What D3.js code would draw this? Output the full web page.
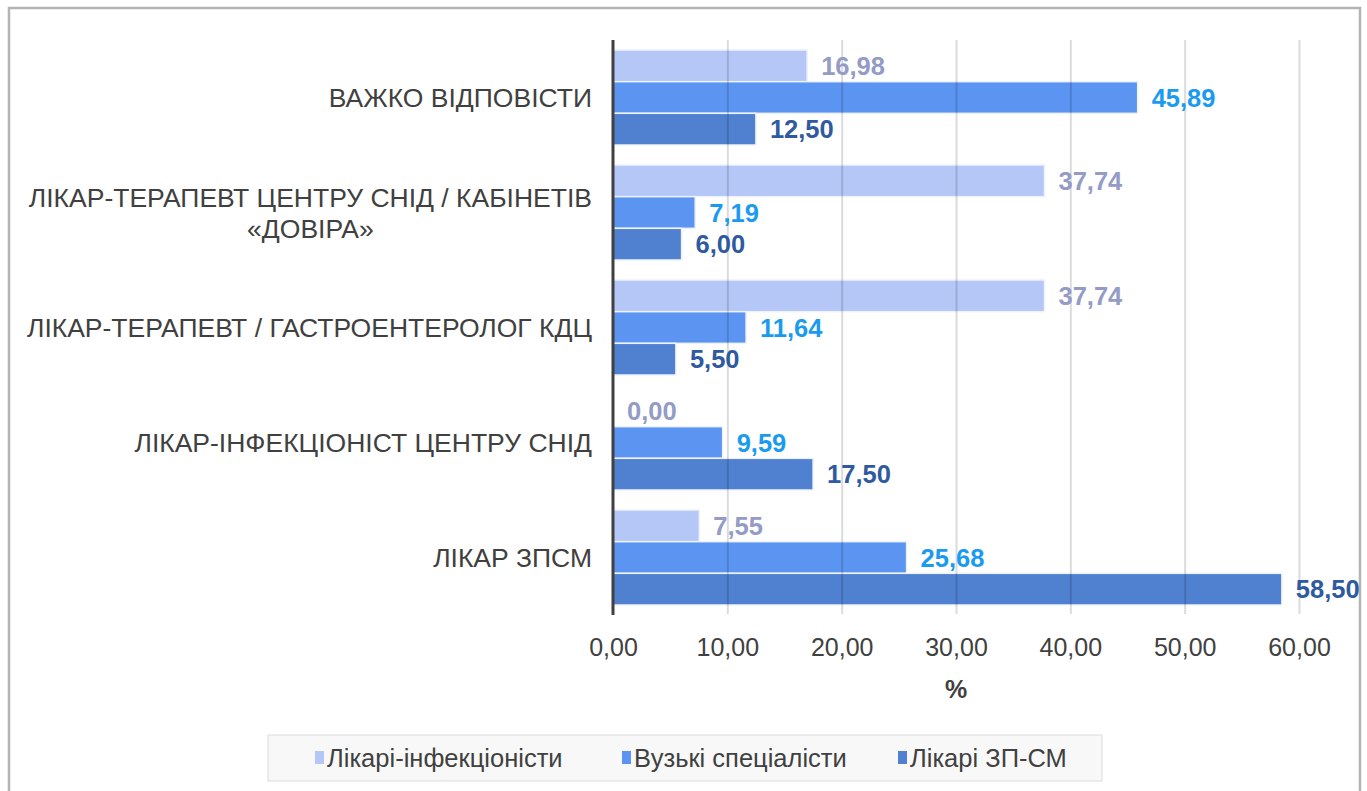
<!DOCTYPE html>
<html><head><meta charset="utf-8">
<script src="https://cdn.jsdelivr.net/npm/d3@7"></script>
<style>body{margin:0;background:#fff}text{font-family:"Liberation Sans",Arial,sans-serif}</style>
</head><body><svg id="c" width="1367" height="791"></svg>
<script>
const categories = ["ВАЖКО ВІДПОВІСТИ", "ЛІКАР-ТЕРАПЕВТ ЦЕНТРУ СНІД / КАБІНЕТІВ «ДОВІРА»", "ЛІКАР-ТЕРАПЕВТ / ГАСТРОЕНТЕРОЛОГ КДЦ", "ЛІКАР-ІНФЕКЦІОНІСТ ЦЕНТРУ СНІД", "ЛІКАР ЗПСМ"];
const seriesNames = ["Лікарі-інфекціоністи", "Вузькі спеціалісти", "Лікарі ЗП-СМ"];
const infectionists = [16.98, 37.74, 37.74, 0.00, 7.55];
const specialists = [45.89, 7.19, 11.64, 9.59, 25.68];
const gps = [12.50, 6.00, 5.50, 17.50, 58.50];
const xTicks = [0, 10, 20, 30, 40, 50, 60];
const axisTitle = "%";

const barColors = ["#b4c7f7", "#5b94f1", "#5080d0"];
const labelColors = ["#939bc6", "#1a9bf0", "#2f5aa0"];
const seriesValues = [infectionists, specialists, gps];

const svg = d3.select("#c");
const fmt = v => d3.format(".2f")(v).replace(".", ",");
const catFont = "26.5px";

// frame
svg.append("rect").attr("x", 9).attr("y", 8).attr("width", 1351).attr("height", 800)
  .attr("fill", "#fff").attr("stroke", "#b4b4b4").attr("stroke-width", 2.5);

const x = d3.scaleLinear().domain([0, 60]).range([613, 1299]);
const y = d3.scaleBand().domain(categories).range([40, 615]).paddingInner(0.174).paddingOuter(0.087);
const ySub = d3.scaleBand().domain(d3.range(3)).range([0, y.bandwidth()]);

const rows = [];
categories.forEach((c, i) => seriesValues.forEach((vals, s) => rows.push({c, s, v: vals[i]})));

// bars
svg.append("g").selectAll("rect").data(rows).join("rect")
  .attr("x", x(0)).attr("y", d => y(d.c) + ySub(d.s))
  .attr("width", d => x(d.v) - x(0)).attr("height", ySub.bandwidth())
  .attr("fill", d => barColors[d.s]).attr("stroke", "#eef2fb").attr("stroke-width", 1.5);

// gridlines (drawn over bars, translucent)
const xAxis = d3.axisBottom(x).tickValues(xTicks).tickSize(-(614 - 40)).tickFormat(fmt);
const gx = svg.append("g").attr("transform", "translate(0,614)").call(xAxis);
gx.select(".domain").remove();
gx.selectAll(".tick line").attr("stroke", "#000").attr("stroke-opacity", 0.14).attr("stroke-width", 2)
  .filter(d => d === 0).remove();
gx.selectAll(".tick text").attr("y", 0).attr("dy", 0).attr("transform", "translate(0,42)")
  .attr("fill", "#404040").style("font-size", "25px");

// value axis line
svg.append("line").attr("x1", x(0)).attr("x2", x(0)).attr("y1", 40).attr("y2", 615)
  .attr("stroke", "#404040").attr("stroke-width", 3);

// data labels
svg.append("g").selectAll("text").data(rows).join("text")
  .attr("x", d => x(d.v) + 14).attr("y", d => y(d.c) + ySub(d.s) + ySub.bandwidth() / 2)
  .attr("dy", "0.36em").attr("fill", d => labelColors[d.s])
  .style("font-size", "25.5px").style("font-weight", "bold").text(d => fmt(d.v));

// category labels with wrapping
const catG = svg.append("g");
const measure = s => { const p = catG.append("text").style("font-size", catFont).text(s); const w = p.node().getComputedTextLength(); p.remove(); return w; };
categories.forEach(c => {
  const cy = y(c) + y.bandwidth() / 2;
  const t = catG.append("text").attr("fill", "#404040").style("font-size", catFont);
  const words = c.split(" ");
  let lines = [], cur = "";
  words.forEach(w => {
    const test = cur ? cur + " " + w : w;
    if (measure(test) > 600 && cur) { lines.push(cur); cur = w; } else cur = test;
  });
  lines.push(cur);
  const lh = 31;
  const maxW = d3.max(lines, measure);
  const right = 592;
  lines.forEach((l, k) => {
    t.append("tspan").attr("x", lines.length > 1 ? right - maxW / 2 : right)
      .attr("text-anchor", lines.length > 1 ? "middle" : "end")
      .attr("y", cy + (k - (lines.length - 1) / 2) * lh).attr("dy", "0.36em").text(l);
  });
});

// axis title
svg.append("text").attr("x", (x(0) + x(60)) / 2).attr("y", 698).attr("text-anchor", "middle")
  .attr("fill", "#404040").style("font-size", "25px").style("font-weight", "bold").text(axisTitle);

// legend
const lg = svg.append("g");
lg.append("rect").attr("x", 268).attr("y", 735).attr("width", 834).attr("height", 46)
  .attr("fill", "#f8f8f8").attr("stroke", "#dcdcdc").attr("stroke-width", 1);
const legX = [315, 622, 898];
seriesNames.forEach((n, i) => {
  lg.append("rect").attr("x", legX[i]).attr("y", 751).attr("width", 9).attr("height", 13).attr("fill", barColors[i]);
  lg.append("text").attr("x", legX[i] + 12).attr("y", 758).attr("dy", "0.36em")
    .attr("fill", "#404040").style("font-size", "25.5px").text(n);
});
</script></body></html>
